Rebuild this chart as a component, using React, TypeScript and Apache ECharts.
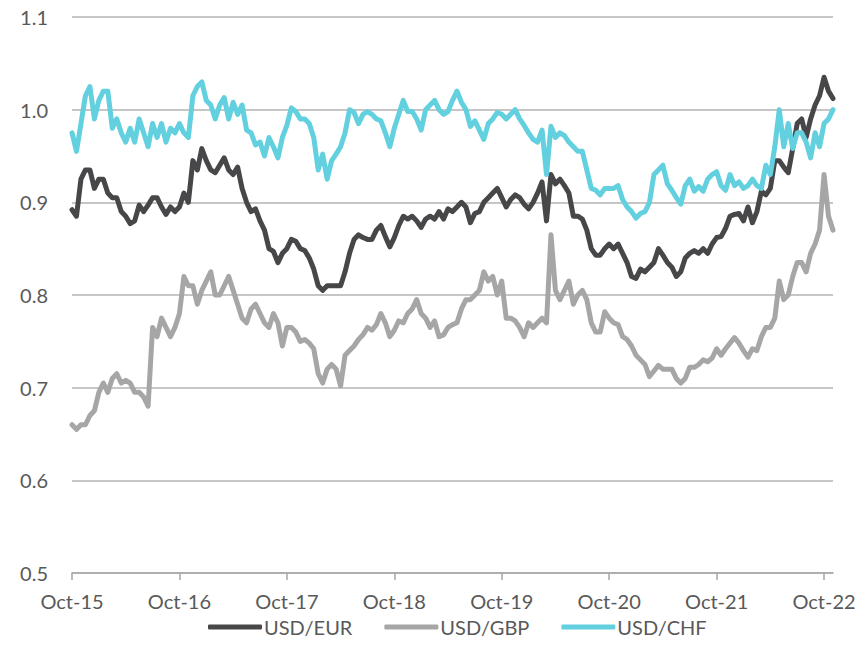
import { useEffect, useRef } from "react";
import * as echarts from "echarts";

const MONTH_NAMES = ["Jan", "Feb", "Mar", "Apr", "May", "Jun", "Jul", "Aug", "Sep", "Oct", "Nov", "Dec"];

// semi-monthly observations, 1 Oct 2015 .. 1 Nov 2022 (171 points)
const N_POINTS = 171;
const dates: string[] = [];
for (let i = 0; i < N_POINTS; i++) {
  const mAbs = 9 + Math.floor(i / 2);
  const year = 2015 + Math.floor(mAbs / 12);
  const mo = mAbs % 12;
  dates.push(`${i % 2 ? 16 : 1} ${MONTH_NAMES[mo]}-${String(year).slice(2)}`);
}

const seriesNames = ["USD/EUR", "USD/GBP", "USD/CHF"];
const seriesColors = ["#474749", "#a6a6a6", "#62d0de"];

const usdEur = [
  0.892, 0.885, 0.925, 0.935, 0.935, 0.915, 0.925, 0.925, 0.91, 0.905, 0.905, 0.89,
  0.885, 0.877, 0.88, 0.897, 0.89, 0.897, 0.905, 0.905, 0.895, 0.887, 0.895, 0.89,
  0.895, 0.91, 0.9, 0.945, 0.935, 0.958, 0.945, 0.935, 0.932, 0.94, 0.948, 0.935,
  0.93, 0.938, 0.915, 0.9, 0.89, 0.893, 0.88, 0.87, 0.85, 0.847, 0.835, 0.845,
  0.85, 0.86, 0.858, 0.85, 0.848, 0.84, 0.828, 0.81, 0.805, 0.81, 0.81, 0.81,
  0.81, 0.825, 0.845, 0.86, 0.865, 0.862, 0.86, 0.86, 0.87, 0.875, 0.863, 0.852,
  0.862, 0.875, 0.885, 0.882, 0.885, 0.88, 0.873, 0.882, 0.885, 0.882, 0.89, 0.882,
  0.893, 0.89, 0.895, 0.9, 0.895, 0.878, 0.888, 0.89, 0.9, 0.905, 0.91, 0.915,
  0.905, 0.895, 0.903, 0.908, 0.905, 0.898, 0.893, 0.9, 0.91, 0.922, 0.88, 0.93,
  0.92, 0.925, 0.918, 0.91, 0.885, 0.885, 0.882, 0.87, 0.85, 0.843, 0.843, 0.85,
  0.855, 0.85, 0.855, 0.845, 0.835, 0.82, 0.818, 0.828, 0.825, 0.83, 0.835, 0.85,
  0.843, 0.835, 0.83, 0.82, 0.825, 0.84, 0.845, 0.848, 0.845, 0.85, 0.845, 0.855,
  0.862, 0.863, 0.872, 0.885, 0.887, 0.888, 0.88, 0.895, 0.878, 0.89, 0.912, 0.908,
  0.915, 0.945, 0.945, 0.938, 0.932, 0.958, 0.985, 0.99, 0.97, 0.99, 1.005, 1.015,
  1.035, 1.02, 1.012,
];

const usdGbp = [
  0.66, 0.655, 0.66, 0.66, 0.67, 0.675, 0.695, 0.705, 0.695, 0.71, 0.715, 0.705,
  0.708, 0.705, 0.695, 0.695, 0.69, 0.68, 0.765, 0.755, 0.775, 0.765, 0.755, 0.765,
  0.78, 0.82, 0.81, 0.81, 0.79, 0.805, 0.815, 0.825, 0.8, 0.8, 0.81, 0.82,
  0.805, 0.79, 0.775, 0.77, 0.785, 0.79, 0.78, 0.77, 0.765, 0.78, 0.77, 0.745,
  0.765, 0.765, 0.76, 0.75, 0.752, 0.748, 0.742, 0.715, 0.705, 0.72, 0.725, 0.72,
  0.702, 0.735, 0.74, 0.745, 0.752, 0.757, 0.765, 0.762, 0.768, 0.78, 0.77, 0.755,
  0.762, 0.772, 0.77, 0.78, 0.785, 0.795, 0.78, 0.775, 0.765, 0.772, 0.755, 0.757,
  0.765, 0.768, 0.77, 0.785, 0.795, 0.795, 0.8, 0.805, 0.825, 0.815, 0.82, 0.8,
  0.815, 0.775, 0.775, 0.772, 0.765, 0.755, 0.77, 0.765, 0.77, 0.775, 0.77, 0.865,
  0.805, 0.795, 0.805, 0.815, 0.79, 0.8, 0.805, 0.795, 0.77, 0.76, 0.76, 0.782,
  0.775, 0.77, 0.768, 0.755, 0.752, 0.745, 0.735, 0.73, 0.725, 0.712, 0.718, 0.724,
  0.72, 0.72, 0.72, 0.71, 0.705, 0.71, 0.722, 0.722, 0.725, 0.73, 0.728, 0.732,
  0.742, 0.735, 0.742, 0.748, 0.754, 0.748, 0.74, 0.733, 0.742, 0.74, 0.755, 0.765,
  0.765, 0.775, 0.815, 0.795, 0.8, 0.82, 0.835, 0.835, 0.825, 0.845, 0.855, 0.87,
  0.93, 0.885, 0.87,
];

const usdChf = [
  0.975, 0.955, 0.985, 1.015, 1.025, 0.99, 1.01, 1.02, 1.02, 0.98, 0.99, 0.975,
  0.965, 0.98, 0.965, 0.99, 0.975, 0.96, 0.985, 0.97, 0.985, 0.965, 0.98, 0.975,
  0.985, 0.975, 0.97, 1.015, 1.025, 1.03, 1.01, 1.005, 0.99, 1.005, 1.013, 0.99,
  1.008, 0.995, 1.005, 0.978, 0.975, 0.962, 0.965, 0.95, 0.97, 0.96, 0.948, 0.97,
  0.983, 1.002, 0.998, 0.99, 0.99, 0.985, 0.97, 0.935, 0.952, 0.925, 0.945, 0.952,
  0.96, 0.975, 1.0, 0.997, 0.985, 0.995, 0.998, 0.995, 0.99, 0.988, 0.975, 0.96,
  0.98, 0.995, 1.01, 0.998, 0.998, 0.99, 0.978, 1.0, 1.005, 1.01, 1.0, 0.995,
  0.998, 1.01, 1.02, 1.008, 1.0, 0.982, 0.988, 0.978, 0.968, 0.985, 0.99, 0.997,
  0.995, 0.99, 0.995, 1.0, 0.99, 0.983, 0.975, 0.968, 0.965, 0.978, 0.93, 0.982,
  0.97, 0.975, 0.972, 0.965, 0.96, 0.955, 0.955, 0.935, 0.915, 0.913, 0.908, 0.915,
  0.915, 0.915, 0.918, 0.903, 0.895, 0.89, 0.883, 0.888, 0.89, 0.9, 0.93, 0.935,
  0.94, 0.92, 0.913, 0.905, 0.898, 0.918, 0.925, 0.912, 0.917, 0.912, 0.925, 0.93,
  0.933, 0.918, 0.913, 0.93, 0.918, 0.922, 0.915, 0.918, 0.925, 0.918, 0.915, 0.94,
  0.93, 0.96, 1.0, 0.96, 0.985, 0.958, 0.975, 0.975, 0.965, 0.948, 0.975, 0.96,
  0.985, 0.99, 1.0,
];

const seriesData = [usdEur, usdGbp, usdChf];

const yMin = 0.5;
const yMax = 1.1;
const yStep = 0.1;

const FONT = "Lato, 'Open Sans', sans-serif";

export default function App() {
  const ref = useRef<HTMLDivElement>(null);

  useEffect(() => {
    if (!ref.current) return;
    const chart = echarts.init(ref.current, null, { renderer: "svg" });
    chart.setOption({
      animation: false,
      backgroundColor: "#ffffff",
      textStyle: { fontFamily: FONT },
      grid: { left: 72, right: 34, top: 17, bottom: 90, containLabel: false },
      legend: {
        data: seriesNames,
        left: 203,
        top: 612,
        icon: "roundRect",
        itemWidth: 54,
        itemHeight: 5,
        itemGap: 32,
        textStyle: { color: "#595959", fontSize: 20, fontFamily: FONT, padding: [0, 0, 0, -3] },
      },
      xAxis: {
        type: "category",
        data: dates,
        boundaryGap: false,
        axisLine: { show: true, lineStyle: { color: "#a6a6a6", width: 1.5 } },
        axisTick: {
          show: true,
          interval: (idx: number) => idx % 24 === 0,
          length: 7,
          lineStyle: { color: "#a6a6a6", width: 1.5 },
        },
        axisLabel: {
          interval: (idx: number) => idx % 24 === 0,
          formatter: (v: string) => v.split(" ")[1],
          color: "#595959",
          fontSize: 20,
          fontFamily: FONT,
          margin: 18,
        },
        splitLine: { show: false },
      },
      yAxis: {
        type: "value",
        min: yMin,
        max: yMax,
        interval: yStep,
        axisLine: { show: false },
        axisTick: { show: false },
        axisLabel: {
          formatter: (v: number) => v.toFixed(1),
          color: "#595959",
          fontSize: 20,
          fontFamily: FONT,
          margin: 24,
        },
        splitLine: { show: true, lineStyle: { color: "#b3b3b3", width: 1.5 } },
      },
      series: seriesNames.map((name, k) => ({
        name,
        type: "line",
        data: seriesData[k],
        showSymbol: false,
        symbol: "none",
        smooth: false,
        color: seriesColors[k],
        lineStyle: { color: seriesColors[k], width: 5, join: "round", cap: "round" },
        z: 2 + k,
      })),
    });
    return () => chart.dispose();
  }, []);

  return (
    <div
      ref={ref}
      style={{ position: "fixed", left: 0, top: 0, width: 867, height: 663 }}
    />
  );
}
